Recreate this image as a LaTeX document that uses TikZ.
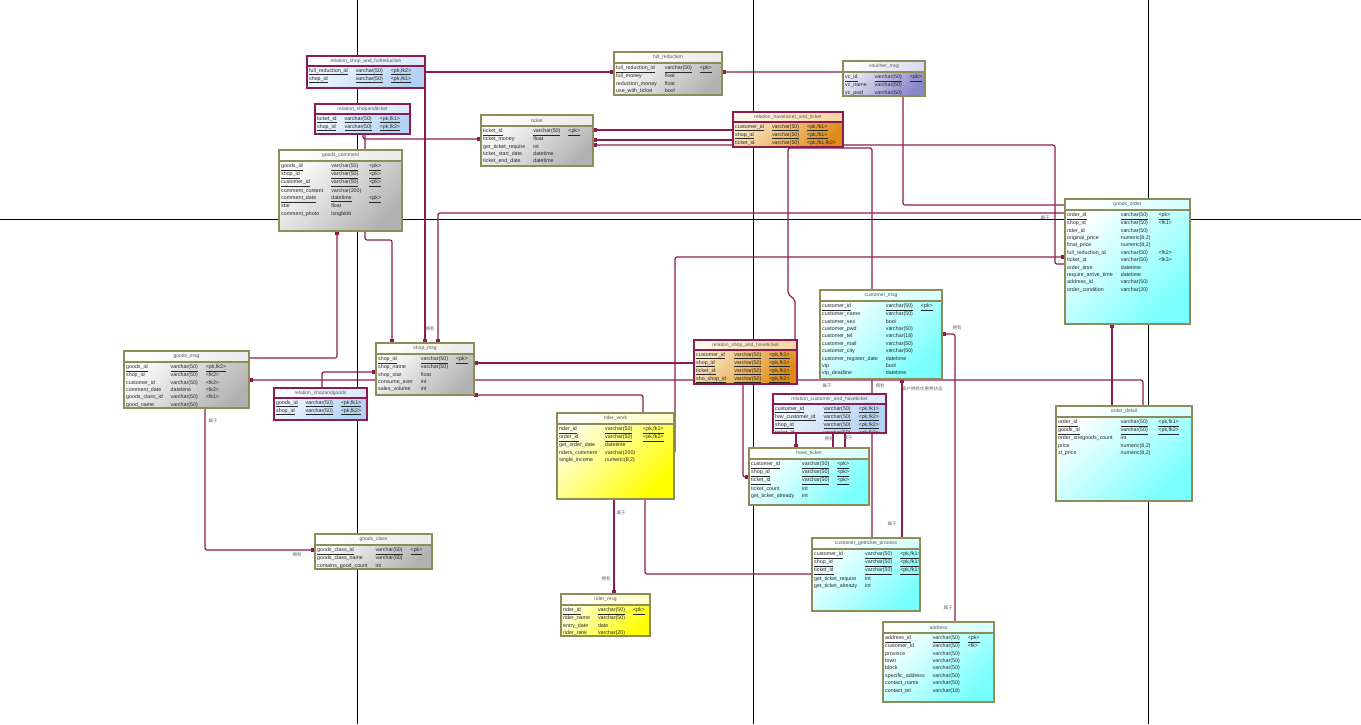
\documentclass[tikz,border=0pt]{standalone}
\usepackage{fontspec}
\setmainfont{Liberation Sans}
\newfontfamily\cjk{Noto Sans CJK SC}
\usetikzlibrary{arrows.meta,calc}
\pgfdeclarelayer{pagebg}
\pgfdeclarelayer{linkbg}
\pgfsetlayers{pagebg,linkbg,main}

\definecolor{lnk}{HTML}{8C1C50}
\definecolor{olv}{HTML}{8E8C58}
\definecolor{txt}{HTML}{262626}

\tikzset{
  tabbase/.style={inner sep=0pt, outer sep=0pt, anchor=north west},
  rowsfont/.style={font=\fontsize{5.3}{7.4}\selectfont, text=txt},
  relrowsfont/.style={font=\fontsize{5.3}{7}\selectfont, text=txt},
  titlefont/.style={font=\fontsize{5}{6}\selectfont, text=black!65, inner sep=0pt},
  % gray
  g-body/.style={top color=white, bottom color=black!30, shading angle=45},
  g-title/.style={top color=white, bottom color=black!8, shading angle=45},
  g-border/.style={draw=olv, line width=1.3pt},
  g-rows/.style={rowsfont},
  % cyan
  c-body/.style={top color=white, bottom color={rgb,255:red,120;green,255;blue,255}, shading angle=45},
  c-title/.style={top color=white, bottom color={rgb,255:red,215;green,255;blue,255}, shading angle=45},
  c-border/.style={draw=olv, line width=1.3pt},
  c-rows/.style={rowsfont},
  % yellow
  y-body/.style={top color={rgb,255:red,255;green,255;blue,235}, bottom color={rgb,255:red,255;green,255;blue,0}, shading angle=45},
  y-title/.style={top color=white, bottom color={rgb,255:red,255;green,255;blue,200}, shading angle=45},
  y-border/.style={draw=olv, line width=1.3pt},
  y-rows/.style={rowsfont},
  % purple
  p-body/.style={top color={rgb,255:red,240;green,240;blue,250}, bottom color={rgb,255:red,135;green,135;blue,200}, shading angle=45},
  p-title/.style={top color=white, bottom color={rgb,255:red,220;green,220;blue,240}, shading angle=45},
  p-border/.style={draw=olv, line width=1.3pt},
  p-rows/.style={rowsfont},
  % orange
  o-body/.style={top color={rgb,255:red,252;green,236;blue,208}, bottom color={rgb,255:red,222;green,140;blue,25}, shading angle=45},
  o-title/.style={top color={rgb,255:red,255;green,248;blue,235}, bottom color={rgb,255:red,246;green,215;blue,165}, shading angle=45},
  o-border/.style={draw=lnk, line width=1.3pt},
  o-rows/.style={relrowsfont},
  % blue
  b-body/.style={top color={rgb,255:red,244;green,249;blue,255}, bottom color={rgb,255:red,178;green,210;blue,244}, shading angle=45},
  b-title/.style={top color=white, bottom color={rgb,255:red,220;green,234;blue,250}, shading angle=45},
  b-border/.style={draw=lnk, line width=1.3pt},
  b-rows/.style={relrowsfont},
  % connectors
  lk/.style={draw=lnk, line width=1.2pt, rounded corners=2pt},
  lkp/.style={lk, -{Square[length=3.8pt,width=3.8pt]}},
  lbl/.style={font=\cjk\fontsize{4.5}{5}\selectfont, text=black!60, inner sep=0pt},
  pageline/.style={draw=black, line width=0.8pt},
}

\newcommand\prow[3]{\underline{#1}&\underline{#2}&\underline{#3}\\}
\newcommand\nrow[3]{#1&#2&#3\\}

% #1 band, #2 name, #3 x1, #4 y1, #5 x2, #6 y2, #7 kind, #8 title, #9 rows
\newcommand\ertabgen[9]{%
  \node[tabbase,#7-body,minimum width={#5-#3},minimum height={#6-#4}] (#2) at (#3,#4) {};
  \path[#7-title] (#2.north west) rectangle ($(#2.north east)+(0,#1)$);
  \begin{scope}
    \clip (#2.north west) rectangle (#2.south east);
    \node[titlefont] (#2-ttl) at ($(#2.north)+(0,#1/2)$) {#8};
    \node[#7-rows, anchor=north west, inner sep=0pt] (#2-rows) at ($(#2.north west)+(2,#1+1)$)
      {\begin{tabular}{@{}l@{\hspace{8pt}}l@{\hspace{8pt}}l@{}}#9\end{tabular}};
  \end{scope}
  \draw[#7-border] ($(#2.north west)+(0,#1)$) -- ($(#2.north east)+(0,#1)$);
  \draw[#7-border] (#2.north west) rectangle (#2.south east);
}
\newcommand\ertab{\ertabgen{11}}
\newcommand\reltab{\ertabgen{10}}

\begin{document}
\begin{tikzpicture}[x=1pt,y=-1pt]
\useasboundingbox (0,0) rectangle (1361,724);
\begin{pgfonlayer}{pagebg}
  \fill[white] (0,0) rectangle (1361,724);
  \draw[pageline] (357,0) -- (357,724);
  \draw[pageline] (753,0) -- (753,724);
  \draw[pageline] (1148,0) -- (1148,724);
  \draw[pageline] (0,219) -- (1361,219);
\end{pgfonlayer}

% ---------------- tables ----------------
\reltab{rsf}{307}{56}{425}{88}{b}{relation\_shop\_and\_fullreduction}{%
 \prow{full\_reduction\_id}{varchar(50)}{<pk,fk2>}
 \prow{shop\_id}{varchar(50)}{<pk,fk1>}}

\reltab{rsc}{315}{104}{410}{134}{b}{relation\_shopandticket}{%
 \prow{ticket\_id}{varchar(50)}{<pk,fk1>}
 \prow{shop\_id}{varchar(50)}{<pk,fk2>}}

\ertab{fr}{614}{52}{722}{95}{g}{full\_reduction}{%
 \prow{full\_reduction\_id}{varchar(50)}{<pk>}
 \nrow{full\_money}{float}{}
 \nrow{reduction\_money}{float}{}
 \nrow{use\_with\_ticket}{bool}{}}

\ertab{vm}{843}{61}{925}{96}{p}{voucher\_msg}{%
 \prow{vc\_id}{varchar(50)}{<pk>}
 \nrow{vc\_name}{varchar(50)}{}
 \nrow{vc\_pwd}{varchar(50)}{}}

\ertab{tk}{481}{115}{593}{166}{g}{ticket}{%
 \prow{ticket\_id}{varchar(50)}{<pk>}
 \nrow{ticket\_money}{float}{}
 \nrow{get\_ticket\_require}{int}{}
 \nrow{ticket\_start\_date}{datetime}{}
 \nrow{ticket\_end\_date}{datetime}{}}

\reltab{ra}{733}{112}{843}{147}{o}{relation\_haveticket\_and\_ticket}{%
 \prow{customer\_id}{varchar(50)}{<pk,fk1>}
 \prow{shop\_id}{varchar(50)}{<pk,fk1>}
 \prow{ticket\_id}{varchar(50)}{<pk,fk1,fk2>}}

\ertab{gc}{279}{150}{402}{231}{g}{goods\_comment}{%
 \prow{goods\_id}{varchar(50)}{<pk>}
 \prow{shop\_id}{varchar(50)}{<pk>}
 \prow{customer\_id}{varchar(50)}{<pk>}
 \nrow{comment\_content}{varchar(200)}{}
 \prow{comment\_date}{datetime}{<pk>}
 \nrow{star}{float}{}
 \nrow{comment\_photo}{longblob}{}}

\ertab{go}{1065}{199}{1190}{324}{c}{goods\_order}{%
 \prow{order\_id}{varchar(50)}{<pk>}
 \nrow{shop\_id}{varchar(50)}{<fk1>}
 \nrow{rider\_id}{varchar(50)}{}
 \nrow{original\_price}{numeric(8,2)}{}
 \nrow{final\_price}{numeric(8,2)}{}
 \nrow{full\_reduction\_id}{varchar(50)}{<fk2>}
 \nrow{ticket\_id}{varchar(50)}{<fk3>}
 \nrow{order\_time}{datetime}{}
 \nrow{require\_arrive\_time}{datetime}{}
 \nrow{address\_id}{varchar(50)}{}
 \nrow{order\_condition}{varchar(20)}{}}

\ertab{cm}{820}{290}{942}{379}{c}{customer\_msg}{%
 \prow{customer\_id}{varchar(50)}{<pk>}
 \nrow{customer\_name}{varchar(50)}{}
 \nrow{customer\_sex}{bool}{}
 \nrow{customer\_pwd}{varchar(50)}{}
 \nrow{customer\_tel}{varchar(18)}{}
 \nrow{customer\_mail}{varchar(50)}{}
 \nrow{customer\_city}{varchar(50)}{}
 \nrow{customer\_register\_date}{datetime}{}
 \nrow{vip}{bool}{}
 \nrow{vip\_deadline}{datetime}{}}

\ertab{gm}{124}{351}{249}{408}{g}{goods\_msg}{%
 \prow{goods\_id}{varchar(50)}{<pk,fk2>}
 \nrow{shop\_id}{varchar(50)}{<fk2>}
 \nrow{customer\_id}{varchar(50)}{<fk2>}
 \nrow{comment\_date}{datetime}{<fk2>}
 \nrow{goods\_class\_id}{varchar(50)}{<fk1>}
 \nrow{good\_name}{varchar(50)}{}}

\ertab{sm}{376}{343}{474}{395}{g}{shop\_msg}{%
 \prow{shop\_id}{varchar(50)}{<pk>}
 \nrow{shop\_name}{varchar(50)}{}
 \nrow{shop\_star}{float}{}
 \nrow{consume\_aver}{int}{}
 \nrow{sales\_volume}{int}{}}

\reltab{rb}{694}{340}{797}{384}{o}{relation\_shop\_and\_haveticket}{%
 \prow{customer\_id}{varchar(50)}{<pk,fk1>}
 \prow{shop\_id}{varchar(50)}{<pk,fk1>}
 \prow{ticket\_id}{varchar(50)}{<pk,fk1>}
 \prow{sho\_shop\_id}{varchar(50)}{<pk,fk2>}}

\reltab{rsg}{274}{388}{367}{420}{b}{relation\_shopandgoods}{%
 \prow{goods\_id}{varchar(50)}{<pk,fk1>}
 \prow{shop\_id}{varchar(50)}{<pk,fk2>}}

\reltab{rch}{773}{394}{886}{433}{b}{relation\_customer\_and\_haveticket}{%
 \prow{customer\_id}{varchar(50)}{<pk,fk1>}
 \prow{hav\_customer\_id}{varchar(50)}{<pk,fk2>}
 \prow{shop\_id}{varchar(50)}{<pk,fk2>}
 \prow{ticket\_id}{varchar(50)}{<pk,fk2>}}

\ertab{rw}{557}{413}{674}{499}{y}{rider\_work}{%
 \prow{rider\_id}{varchar(50)}{<pk,fk1>}
 \prow{order\_id}{varchar(50)}{<pk,fk2>}
 \nrow{get\_order\_date}{datetime}{}
 \nrow{riders\_comment}{varchar(200)}{}
 \nrow{single\_income}{numeric(8,2)}{}}

\ertab{ht}{749}{448}{869}{505}{c}{have\_ticket}{%
 \prow{customer\_id}{varchar(50)}{<pk>}
 \prow{shop\_id}{varchar(50)}{<pk>}
 \prow{ticket\_id}{varchar(50)}{<pk>}
 \nrow{ticket\_count}{int}{}
 \nrow{get\_ticket\_already}{int}{}}

\ertab{od}{1056}{406}{1192}{501}{c}{order\_detail}{%
 \prow{order\_id}{varchar(50)}{<pk,fk1>}
 \prow{goods\_id}{varchar(50)}{<pk,fk2>}
 \nrow{order\_onegoods\_count}{int}{}
 \nrow{price}{numeric(8,2)}{}
 \nrow{zl\_price}{numeric(8,2)}{}}

\ertab{gcl}{315}{534}{432}{569}{g}{goods\_class}{%
 \prow{goods\_class\_id}{varchar(50)}{<pk>}
 \nrow{goods\_class\_name}{varchar(50)}{}
 \nrow{contains\_good\_count}{int}{}}

\ertab{rm}{561}{594}{650}{636}{y}{rider\_msg}{%
 \prow{rider\_id}{varchar(50)}{<pk>}
 \nrow{rider\_name}{varchar(50)}{}
 \nrow{entry\_date}{date}{}
 \nrow{rider\_rank}{varchar(20)}{}}

\ertab{cgp}{812}{538}{920}{611}{c}{customer\_getticket\_process}{%
 \prow{customer\_id}{varchar(50)}{<pk,fk1>}
 \prow{shop\_id}{varchar(50)}{<pk,fk1>}
 \prow{ticket\_id}{varchar(50)}{<pk,fk1>}
 \nrow{get\_ticket\_require}{int}{}
 \nrow{get\_ticket\_already}{int}{}}

\ertab{ad}{883}{622}{994}{702}{c}{address}{%
 \prow{address\_id}{varchar(50)}{<pk>}
 \nrow{customer\_id}{varchar(50)}{<fk>}
 \nrow{province}{varchar(50)}{}
 \nrow{town}{varchar(50)}{}
 \nrow{block}{varchar(50)}{}
 \nrow{specific\_address}{varchar(50)}{}
 \nrow{contact\_name}{varchar(50)}{}
 \nrow{contact\_tel}{varchar(18)}{}}

% ---------------- connectors ----------------
\begin{pgfonlayer}{linkbg}
  \draw[lkp] (rsf.east |- 0,72) -- (fr.west |- 0,72);
  \draw[lkp] (rsf.east |- 0,72) -| (sm.north -| 425,0);
  \draw[lkp] (rsc.south -| 363,0) |- (tk.west |- 0,139);
  \draw[lkp] (rsc.south -| 365,0) |- (392,240) -- (sm.north -| 392,0);
  \draw[lkp] (gm.east |- 0,358) -| (gc.south -| 337,0);
  \draw[lkp] (go.west |- 0,213) -| (sm.north -| 438,0);
  \draw[lkp] (rsg.north -| 322,0) |- (sm.west |- 0,372);
  \draw[lkp] (od.north -| 1143,0) |- (gm.east |- 0,380);
  \draw[lkp] (rb.west |- 0,363) -- (sm.east |- 0,363);
  \draw[lkp] (rw.north -| 643,0) |- (sm.east |- 0,395);
  \draw[lkp] (rw.east |- 0,453) -- ++(1,0) |- (go.west |- 0,257);
  \draw[lkp] (rw.south -| 614,0) -- (rm.north -| 614,0);
  \draw[lk]  (rw.south -| 645,0) |- (cgp.west |- 0,574);
  \draw[lkp] (gm.south -| 205,0) |- (gcl.west |- 0,550);
  \draw[lkp] (rb.south -| 743,0) |- (ht.west |- 0,477);
  \draw[lkp] (rch.south -| 796,0) -- (ht.north -| 796,0);
  \draw[lk]  (rch.south -| 833,0) -- (ht.north -| 833,0);
  \draw[lk]  (rch.south -| 845,0) -- (ht.north -| 845,0);
  \draw[lkp] (cgp.north -| 902,0) -- (cm.south -| 902,0);
  \draw[lk]  (cgp.north -| 872,0) |- (788,148) -- (788,294) -- (795,300) -- (rb.north -| 795,0);
  \draw[lkp] (ad.north -| 955,0) |- (cm.east |- 0,334);
  \draw[lkp] (od.north -| 1112,0) -- (go.south -| 1112,0);
  \draw[lkp] (go.west |- 0,205) -| (903,72) -- (fr.east |- 0,72);
  \draw[lkp] (ra.west |- 0,130) -- (tk.east |- 0,130);
  \draw[lkp] (ra.west |- 0,140) -- (tk.east |- 0,140);
  \draw[lkp] (go.west |- 0,264) -| (1055,145) -- (tk.east |- 0,145);
\end{pgfonlayer}

% ---------------- labels ----------------
\node[lbl] (t1) at (430,329) {拥有};
\node[lbl] (t2) at (213,421) {属于};
\node[lbl] (t3) at (297,555) {拥有};
\node[lbl] (t4) at (621,513) {属于};
\node[lbl] (t5) at (606,579) {拥有};
\node[lbl] (t6) at (1045,218) {属于};
\node[lbl] (t7) at (957,328) {拥有};
\node[lbl] (t8) at (827,386) {属于};
\node[lbl] (t9) at (880,386) {拥有};
\node[lbl, anchor=west] (t10) at (902,389) {客户拥有优惠券状态};
\node[lbl] (t11) at (829,439) {拥有};
\node[lbl] (t12) at (848,438) {属于};
\node[lbl] (t13) at (892,524) {属于};
\node[lbl] (t14) at (948,608) {属于};
\end{tikzpicture}
\end{document}
